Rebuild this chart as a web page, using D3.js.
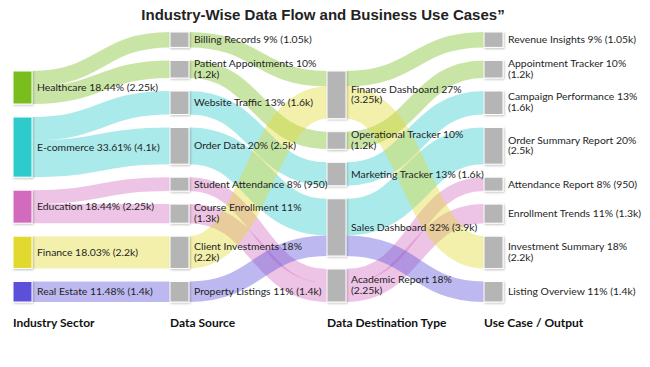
<!DOCTYPE html>
<html>
<head>
<meta charset="utf-8">
<script src="https://cdn.jsdelivr.net/npm/d3@7"></script>
<style>
  body { margin: 0; background: #fff; }
  .label { font-family: Lato, "Open Sans", sans-serif; font-size: 10.4px; fill: #1e1e1e; }
  .col-title { font-family: Lato, sans-serif; font-size: 12px; font-weight: bold; fill: #111; }
  .title { font-family: "Liberation Sans", Arial, sans-serif; font-size: 15px; font-weight: bold; fill: #222; }
</style>
</head>
<body>
<div class="sankey"></div>
<script>
// ---- data ----
const sectors = ['Healthcare', 'E-commerce', 'Education', 'Finance', 'Real Estate'];
const sectorColors = ['#79be1f', '#2ecbcd', '#d26bbd', '#e2d92f', '#5b4fd9'];

const dataSources = ['Billing Records', 'Patient Appointments', 'Website Traffic', 'Order Data',
	'Student Attendance', 'Course Enrollment', 'Client Investments', 'Property Listings'];
const destinations = ['Finance Dashboard', 'Operational Tracker', 'Marketing Tracker', 'Sales Dashboard', 'Academic Report'];
const outputs = ['Revenue Insights', 'Appointment Tracker', 'Campaign Performance', 'Order Summary Report',
	'Attendance Report', 'Enrollment Trends', 'Investment Summary', 'Listing Overview'];

const columnTitles = ['Industry Sector', 'Data Source', 'Data Destination Type', 'Use Case / Output'];

// [source, target, value, sector]
const sectorToSource = [
	['Healthcare', 'Billing Records', 1050, 'Healthcare'],
	['Healthcare', 'Patient Appointments', 1200, 'Healthcare'],
	['E-commerce', 'Website Traffic', 1600, 'E-commerce'],
	['E-commerce', 'Order Data', 2500, 'E-commerce'],
	['Education', 'Student Attendance', 950, 'Education'],
	['Education', 'Course Enrollment', 1300, 'Education'],
	['Finance', 'Client Investments', 2200, 'Finance'],
	['Real Estate', 'Property Listings', 1400, 'Real Estate']
];
const sourceToDestination = [
	['Billing Records', 'Finance Dashboard', 1050, 'Healthcare'],
	['Patient Appointments', 'Operational Tracker', 1200, 'Healthcare'],
	['Website Traffic', 'Marketing Tracker', 1600, 'E-commerce'],
	['Order Data', 'Sales Dashboard', 2500, 'E-commerce'],
	['Student Attendance', 'Academic Report', 950, 'Education'],
	['Course Enrollment', 'Academic Report', 1300, 'Education'],
	['Client Investments', 'Finance Dashboard', 2200, 'Finance'],
	['Property Listings', 'Sales Dashboard', 1400, 'Real Estate']
];
const destinationToOutput = [
	['Finance Dashboard', 'Revenue Insights', 1050, 'Healthcare'],
	['Operational Tracker', 'Appointment Tracker', 1200, 'Healthcare'],
	['Marketing Tracker', 'Campaign Performance', 1600, 'E-commerce'],
	['Sales Dashboard', 'Order Summary Report', 2500, 'E-commerce'],
	['Academic Report', 'Attendance Report', 950, 'Education'],
	['Academic Report', 'Enrollment Trends', 1300, 'Education'],
	['Finance Dashboard', 'Investment Summary', 2200, 'Finance'],
	['Sales Dashboard', 'Listing Overview', 1400, 'Real Estate']
];

// ---- layout ----
const width = 650, height = 367;
const nodeWidth = 19, nodePadding = 13;
const yTop = 32, yBottom = 302;
const wrapWidth = 134.3;

const svg = d3.select('.sankey').append('svg')
	.attr('width', width)
	.attr('height', height);

const defs = svg.append('defs');
const shadow = defs.append('filter').attr('id', 'shadow')
	.attr('x', '-30%').attr('y', '-30%').attr('width', '160%').attr('height', '160%');
shadow.append('feDropShadow')
	.attr('dx', 1).attr('dy', 1).attr('stdDeviation', 0.8)
	.attr('flood-color', '#000').attr('flood-opacity', 0.25);

const color = d3.scaleOrdinal().domain(sectors).range(sectorColors);

const columns = [sectors, dataSources, destinations, outputs];
const allLinks = [].concat(sectorToSource, sourceToDestination, destinationToOutput)
	.map(d => ({source: d[0], target: d[1], value: d[2], sector: d[3]}));

const nodes = new Map();
columns.forEach((col, i) => col.forEach(name => {
	nodes.set(name, {name: name, column: i, sourceLinks: [], targetLinks: []});
}));
allLinks.forEach(l => {
	l.source = nodes.get(l.source);
	l.target = nodes.get(l.target);
	l.source.sourceLinks.push(l);
	l.target.targetLinks.push(l);
});
nodes.forEach(n => {
	n.value = Math.max(d3.sum(n.sourceLinks, l => l.value), d3.sum(n.targetLinks, l => l.value));
});

const total = d3.sum(sectors, s => nodes.get(s).value);

const xScale = d3.scaleLinear()
	.domain([0, columns.length - 1])
	.range([13, 484]);

const ky = d3.min(columns, col => (yBottom - yTop - (col.length - 1) * nodePadding) / d3.sum(col, n => nodes.get(n).value));
const hScale = d3.scaleLinear().domain([0, 1]).range([0, ky]);

// columns are packed against the bottom edge
columns.forEach((col, i) => {
	const colNodes = col.map(n => nodes.get(n));
	const span = d3.sum(colNodes, n => hScale(n.value)) + (colNodes.length - 1) * nodePadding;
	let y = yBottom - span;
	colNodes.forEach(n => {
		n.x0 = xScale(i);
		n.x1 = n.x0 + nodeWidth;
		n.y0 = y;
		n.y1 = y + hScale(n.value);
		y = n.y1 + nodePadding;
	});
});

nodes.forEach(n => {
	n.sourceLinks.sort((a, b) => a.target.y0 - b.target.y0);
	n.targetLinks.sort((a, b) => a.source.y0 - b.source.y0);
	let sy = n.y0, ty = n.y0;
	n.sourceLinks.forEach(l => { l.width = hScale(l.value); l.y0 = sy + l.width / 2; sy += l.width; });
	n.targetLinks.forEach(l => { l.width = hScale(l.value); l.y1 = ty + l.width / 2; ty += l.width; });
});

// ---- links ----
const linkPath = d3.linkHorizontal()
	.source(d => [d.source.x1, d.y0])
	.target(d => [d.target.x0, d.y1]);

svg.append('g')
	.attr('fill', 'none')
	.selectAll('.link')
	.data(allLinks)
	.enter()
	.append('path')
	.attr('class', 'link')
	.attr('d', linkPath)
	.attr('stroke', d => color(d.sector))
	.attr('stroke-opacity', 0.4)
	.attr('stroke-width', d => d.width);

// ---- nodes ----
const nodeList = Array.from(nodes.values());

svg.append('g')
	.selectAll('.node')
	.data(nodeList)
	.enter()
	.append('rect')
	.attr('class', 'node')
	.attr('x', d => d.x0)
	.attr('y', d => d.y0)
	.attr('width', nodeWidth)
	.attr('height', d => d.y1 - d.y0)
	.attr('fill', d => d.column === 0 ? color(d.name) : '#b5b5b5')
	.attr('stroke', '#fff')
	.attr('stroke-width', 1)
	.attr('filter', 'url(#shadow)');

// ---- labels ----
function fmtValue(v) {
	return v >= 1000 ? `${+(v / 1000).toFixed(2)}k` : `${v}`;
}
function fmtPct(d) {
	const p = d.value / total * 100;
	return d.column === 0 ? `${p.toFixed(2)}%` : `${Math.round(p)}%`;
}

const labels = svg.append('g')
	.selectAll('.label')
	.data(nodeList)
	.enter()
	.append('text')
	.attr('class', 'label')
	.attr('x', d => d.x1 + 5)
	.attr('y', d => (d.y0 + d.y1) / 2)
	.attr('dy', '0.35em')
	.text(d => `${d.name} ${fmtPct(d)} (${fmtValue(d.value)})`);

// long labels break before the value
labels.each(function(d) {
	const t = d3.select(this);
	if (this.getComputedTextLength() <= wrapWidth) return;
	const x = d.x1 + 5;
	t.text(null);
	t.append('tspan').attr('x', x).attr('dy', '-0.22em').text(`${d.name} ${fmtPct(d)}`);
	t.append('tspan').attr('x', x).attr('dy', '1.05em').text(`(${fmtValue(d.value)})`);
});

// ---- titles ----
svg.selectAll('.col-title')
	.data(columnTitles)
	.enter()
	.append('text')
	.attr('class', 'col-title')
	.attr('x', (d, i) => xScale(i))
	.attr('y', 327)
	.text(d => d);

svg.append('text')
	.attr('class', 'title')
	.attr('x', 323)
	.attr('y', 20)
	.attr('text-anchor', 'middle')
	.text('Industry-Wise Data Flow and Business Use Cases”');
</script>
</body>
</html>
